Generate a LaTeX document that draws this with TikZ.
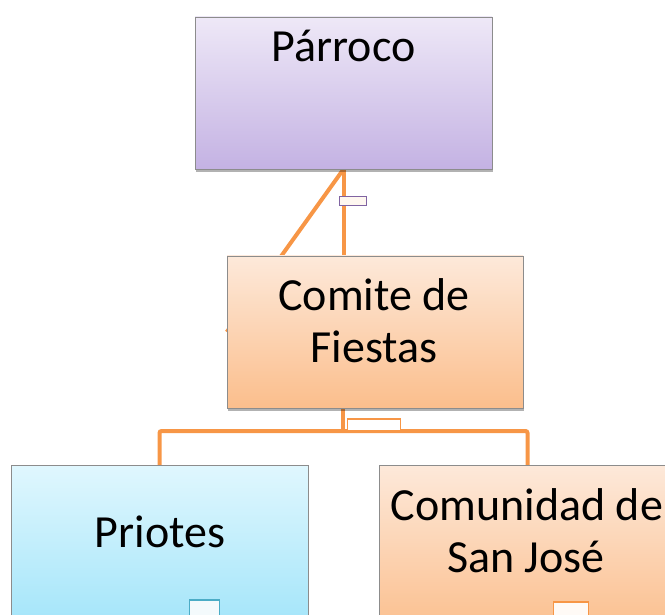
\documentclass[tikz,border=0pt]{standalone}
\usepackage{fontspec}
\setmainfont{Carlito}
\usetikzlibrary{shadows}
\definecolor{conncol}{HTML}{F79646}
\definecolor{purtop}{HTML}{EEE8F7}
\definecolor{purbot}{HTML}{C4B2E3}
\definecolor{orgtop}{HTML}{FDE9DA}
\definecolor{orgbot}{HTML}{FBBE8C}
\definecolor{cyntop}{HTML}{E0F7FE}
\definecolor{cynbot}{HTML}{A0E4F9}
\definecolor{purline}{HTML}{8064A2}
\definecolor{cynline}{HTML}{4BACC6}
\tikzset{
  box/.style={rectangle, draw=black!45, line width=0.8pt, inner sep=0pt,
    drop shadow={shadow xshift=1pt, shadow yshift=-3pt, opacity=0.3, fill=black}},
  txt/.style={anchor=base, inner sep=0pt, font=\fontsize{46}{52}\selectfont},
  conn/.style={draw=conncol, line width=4pt, rounded corners=2pt},
  handle/.style={rectangle, line width=1.2pt, inner sep=0pt},
}
\begin{document}
\begin{tikzpicture}[x=1pt,y=-1pt]
\useasboundingbox (0,0) rectangle (665,615);
\clip (0,0) rectangle (665,615);
% box placeholders (coordinates of nodes)
\path (343.5,93) node[minimum width=297pt, minimum height=152pt, inner sep=0pt] (par) {};
\path (375,332) node[minimum width=296pt, minimum height=152pt, inner sep=0pt] (com) {};
\path (159.5,550) node[minimum width=297pt, minimum height=170pt, inner sep=0pt] (pri) {};
\path (527.5,550) node[minimum width=297pt, minimum height=170pt, inner sep=0pt] (cmu) {};
% connectors
\draw[conn] (par.south) -- (par.south |- com.north);
\draw[conn] (par.south) -- (com.west);
\coordinate (bus) at (0,431);
\draw[conn] ([xshift=-32pt]com.south) -- ([xshift=-32pt]com.south |- bus);
\draw[conn] (pri.north) -- (pri.north |- bus) -- (cmu.north |- bus) -- (cmu.north);
% boxes
\node[box, top color=purtop, bottom color=purbot, minimum width=297pt, minimum height=152pt] (parb) at (par) {};
\node[box, top color=orgtop, bottom color=orgbot, minimum width=296pt, minimum height=152pt] (comb) at (com) {};
\node[box, top color=cyntop, bottom color=cynbot, minimum width=297pt, minimum height=170pt] (prib) at (pri) {};
\node[box, top color=orgtop, bottom color=orgbot, minimum width=297pt, minimum height=170pt] (cmub) at (cmu) {};
% handles
\node[handle, draw=purline, fill=white!92!conncol, minimum width=27pt, minimum height=9pt] (h1) at (353,201) {};
\node[handle, draw=conncol, fill=white, minimum width=53pt, minimum height=12pt] (h2) at (374,425) {};
\node[handle, draw=cynline, fill=white!94!cynline, minimum width=30pt, minimum height=22pt] (h3) at (204.5,611) {};
\node[handle, draw=conncol, fill=white!95!conncol, minimum width=35pt, minimum height=22pt] (h4) at (571,613) {};
% texts
\node[txt] (t1) at (343.5,62) {Párroco};
\node[txt] (t2) at (374,310) {Comite de};
\node[txt] (t3) at (374,362) {Fiestas};
\node[txt] (t4) at (160,547) {Priotes};
\node[txt] (t5) at (527,520) {Comunidad de};
\node[txt] (t6) at (526,572) {San José};
\end{tikzpicture}
\end{document}
